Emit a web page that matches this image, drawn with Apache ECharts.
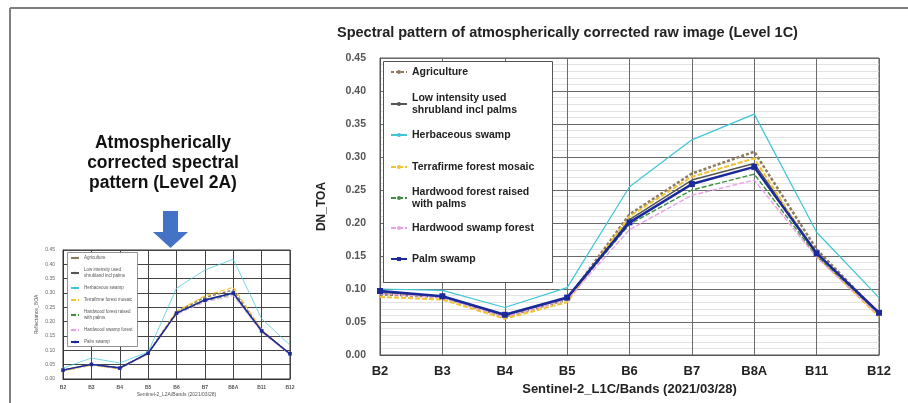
<!DOCTYPE html>
<html lang="en">
<head>
	<meta charset="UTF-8">
	<title>Spectral pattern</title>
	<style>
		html, body { margin: 0; padding: 0; background: #fff; }
		#box { width: 908px; height: 403px; }
	</style>
</head>
<body>
	<div id="box"></div>
	<script src="https://cdn.jsdelivr.net/npm/echarts@6/dist/echarts.min.js"></script>
	<script>
		// bands on the x axis
		var bands = ['B2', 'B3', 'B4', 'B5', 'B6', 'B7', 'B8A', 'B11', 'B12'];

		var classNames = [
			'Agriculture',
			'Low intensity used shrubland incl palms',
			'Herbaceous swamp',
			'Terrafirme forest mosaic',
			'Hardwood forest raised with palms',
			'Hardwood swamp forest',
			'Palm swamp'
		];

		// Level 1C (main chart)
		var agri1C = [0.092, 0.088, 0.058, 0.084, 0.213, 0.275, 0.308, 0.160, 0.062];
		var lowInt1C = [0.095, 0.089, 0.060, 0.086, 0.205, 0.265, 0.290, 0.155, 0.063];
		var herb1C = [0.100, 0.098, 0.072, 0.102, 0.255, 0.326, 0.365, 0.186, 0.087];
		var terra1C = [0.088, 0.084, 0.055, 0.080, 0.210, 0.270, 0.298, 0.150, 0.058];
		var hardRaised1C = [0.094, 0.088, 0.059, 0.085, 0.198, 0.250, 0.274, 0.150, 0.062];
		var hardSwamp1C = [0.093, 0.087, 0.058, 0.084, 0.190, 0.242, 0.265, 0.148, 0.060];
		var palm1C = [0.097, 0.089, 0.061, 0.087, 0.201, 0.259, 0.285, 0.154, 0.064];

		// Level 2A (small chart)
		var agri2A = [0.030, 0.050, 0.038, 0.090, 0.235, 0.285, 0.310, 0.170, 0.085];
		var lowInt2A = [0.032, 0.052, 0.040, 0.090, 0.230, 0.278, 0.300, 0.168, 0.086];
		var herb2A = [0.038, 0.073, 0.056, 0.094, 0.317, 0.380, 0.418, 0.210, 0.118];
		var terra2A = [0.028, 0.048, 0.035, 0.088, 0.235, 0.290, 0.320, 0.172, 0.088];
		var hardRaised2A = [0.030, 0.050, 0.037, 0.088, 0.228, 0.272, 0.295, 0.165, 0.085];
		var hardSwamp2A = [0.030, 0.049, 0.036, 0.087, 0.225, 0.268, 0.290, 0.162, 0.084];
		var palm2A = [0.031, 0.051, 0.038, 0.090, 0.230, 0.275, 0.300, 0.168, 0.088];

		var data1C = [agri1C, lowInt1C, herb1C, terra1C, hardRaised1C, hardSwamp1C, palm1C];
		var data2A = [agri2A, lowInt2A, herb2A, terra2A, hardRaised2A, hardSwamp2A, palm2A];

		var FONT = '"Liberation Sans", Arial, sans-serif';

		var lineStyles = [
			{ color: '#8c7b5c', type: [3, 2], width: 2.5 },
			{ color: '#555555', type: 'solid', width: 1.5 },
			{ color: '#3fc6d6', type: 'solid', width: 1.2 },
			{ color: '#f2c232', type: [5, 2], width: 2 },
			{ color: '#3f8f3f', type: [5, 2], width: 1.4 },
			{ color: '#e8a0e8', type: [5, 2], width: 1.4 },
			{ color: '#1a2a9a', type: 'solid', width: 2.5 }
		];

		// legend text with line breaks
		var legendText = {
			'Low intensity used shrubland incl palms': 'Low intensity used\nshrubland incl palms',
			'Hardwood forest raised with palms': 'Hardwood forest raised\nwith palms'
		};

		function makeSeries(i, data, idx, scale) {
			var st = lineStyles[i];
			var isPalm = i === 6;
			return {
				name: classNames[i],
				type: 'line',
				xAxisIndex: idx,
				yAxisIndex: idx,
				data: data,
				symbol: isPalm ? 'rect' : 'none',
				symbolSize: isPalm ? 6 * scale : 0,
				showSymbol: isPalm,
				z: isPalm ? 5 : 3,
				itemStyle: { color: st.color },
				lineStyle: { color: st.color, type: st.type, width: st.width * scale },
				animation: false
			};
		}

		var series = [];
		for (var i = 0; i < classNames.length; i++) {
			series.push(makeSeries(i, data1C[i], 0, 1));
			series.push(makeSeries(i, data2A[i], 1, 0.6));
		}

		// main legend, one per item to get the spacing of the original
		var legendCenters = [72, 104, 135, 167, 198, 228, 259];
		var legends = classNames.map(function (name, i) {
			var two = !!legendText[name];
			return {
				data: [name],
				orient: 'vertical',
				left: 390,
				top: two ? legendCenters[i] - 18 : legendCenters[i] - 6,
				padding: 0,
				itemWidth: 16,
				itemHeight: 5,
				itemGap: 5,
				formatter: function (n) { return legendText[n] || n; },
				textStyle: {
					fontFamily: FONT, fontSize: 10.5, fontWeight: 'bold', color: '#222',
					lineHeight: 12, padding: two ? [12, 0, 0, 0] : 0
				}
			};
		});
		// small legend of the Level 2A chart
		legends.push({
			data: classNames,
			orient: 'vertical',
			left: 70,
			top: 255,
			padding: 0,
			itemWidth: 8,
			itemHeight: 3,
			itemGap: 6,
			formatter: function (n) { return legendText[n] || n; },
			textStyle: { fontFamily: FONT, fontSize: 4.5, color: '#555', lineHeight: 6 }
		});

		var myChart = echarts.init(document.getElementById('box'));

		var option = {
			backgroundColor: '#fff',
			animation: false,
			title: {
				text: 'Spectral pattern of atmospherically corrected raw image (Level 1C)',
				left: 337,
				top: 25,
				padding: 0,
				textStyle: { fontFamily: FONT, fontSize: 14.5, fontWeight: 'bold', color: '#222' }
			},
			legend: legends,
			grid: [
				{ left: 380, right: 29, top: 58, bottom: 48, show: true, borderColor: '#555', borderWidth: 1 },
				{ left: 63, right: 618, top: 250, bottom: 24, show: true, borderColor: '#333', borderWidth: 1 }
			],
			xAxis: [
				{
					type: 'category', gridIndex: 0, data: bands, boundaryGap: false,
					name: 'Sentinel-2_L1C/Bands (2021/03/28)', nameLocation: 'middle', nameGap: 23,
					nameTextStyle: { fontFamily: FONT, fontSize: 13, fontWeight: 'bold', color: '#222' },
					axisLine: { lineStyle: { color: '#555' } },
					axisTick: { show: false },
					axisLabel: { fontFamily: FONT, fontSize: 13, fontWeight: 'bold', color: '#222', margin: 10 },
					splitLine: { show: true, lineStyle: { color: '#6a6a6a' } }
				},
				{
					type: 'category', gridIndex: 1, data: bands, boundaryGap: false,
					name: 'Sentinel-2_L2A/Bands (2021/03/28)', nameLocation: 'middle', nameGap: 13,
					nameTextStyle: { fontFamily: FONT, fontSize: 5, color: '#555' },
					axisLine: { lineStyle: { color: '#333' } },
					axisTick: { show: false },
					axisLabel: { fontFamily: FONT, fontSize: 5, fontWeight: 'bold', color: '#555', margin: 6 },
					splitLine: { show: true, lineStyle: { color: '#444' } }
				}
			],
			yAxis: [
				{
					type: 'value', gridIndex: 0, min: 0, max: 0.45, interval: 0.05,
					name: 'DN_TOA', nameLocation: 'middle', nameGap: 52,
					nameTextStyle: { fontFamily: FONT, fontSize: 12, fontWeight: 'bold', color: '#222' },
					axisLine: { show: true, lineStyle: { color: '#555' } },
					axisTick: { show: false },
					axisLabel: {
						fontFamily: FONT, fontSize: 10.5, fontWeight: 'bold', color: '#555', margin: 14,
						formatter: function (v) { return v.toFixed(2); }
					},
					splitLine: { lineStyle: { color: '#6a6a6a' } },
					minorTick: { show: false, splitNumber: 5 },
					minorSplitLine: { show: true, lineStyle: { color: '#e2e2e2' } }
				},
				{
					type: 'value', gridIndex: 1, min: 0, max: 0.45, interval: 0.05,
					name: 'Reflectance_BOA', nameLocation: 'middle', nameGap: 24,
					nameTextStyle: { fontFamily: FONT, fontSize: 5, color: '#555' },
					axisLine: { show: true, lineStyle: { color: '#333' } },
					axisTick: { show: false },
					axisLabel: {
						fontFamily: FONT, fontSize: 5, color: '#666', margin: 8,
						formatter: function (v) { return v.toFixed(2); }
					},
					splitLine: { lineStyle: { color: '#444' } }
				}
			],
			graphic: [
				// frame
				{ type: 'line', shape: { x1: 10, y1: 8, x2: 908, y2: 8 }, style: { stroke: '#7f7f7f', lineWidth: 2 }, silent: true },
				{ type: 'line', shape: { x1: 10, y1: 8, x2: 10, y2: 403 }, style: { stroke: '#7f7f7f', lineWidth: 2 }, silent: true },
				// legend boxes
				{ type: 'rect', shape: { x: 383.5, y: 61.5, width: 169, height: 221 }, style: { fill: '#fff', stroke: '#555', lineWidth: 1 }, z: 3, silent: true },
				{ type: 'rect', shape: { x: 67.5, y: 252.5, width: 70, height: 94 }, style: { fill: '#fff', stroke: '#777', lineWidth: 0.8 }, z: 3, silent: true },
				// caption of the small chart
				{
					type: 'text', x: 163, y: 163, silent: true,
					style: {
						text: 'Atmospherically\ncorrected spectral\npattern (Level 2A)',
						fontFamily: FONT, fontSize: 17.5, fontWeight: 'bold', fill: '#111',
						align: 'center', verticalAlign: 'middle', lineHeight: 20
					}
				},
				// blue arrow
				{
					type: 'polygon', silent: true,
					shape: { points: [[163, 211], [178, 211], [178, 232], [188, 232], [170.5, 248], [153, 232], [163, 232]] },
					style: { fill: '#4472c4' }
				}
			],
			series: series
		};

		myChart.setOption(option);
	</script>
</body>
</html>
